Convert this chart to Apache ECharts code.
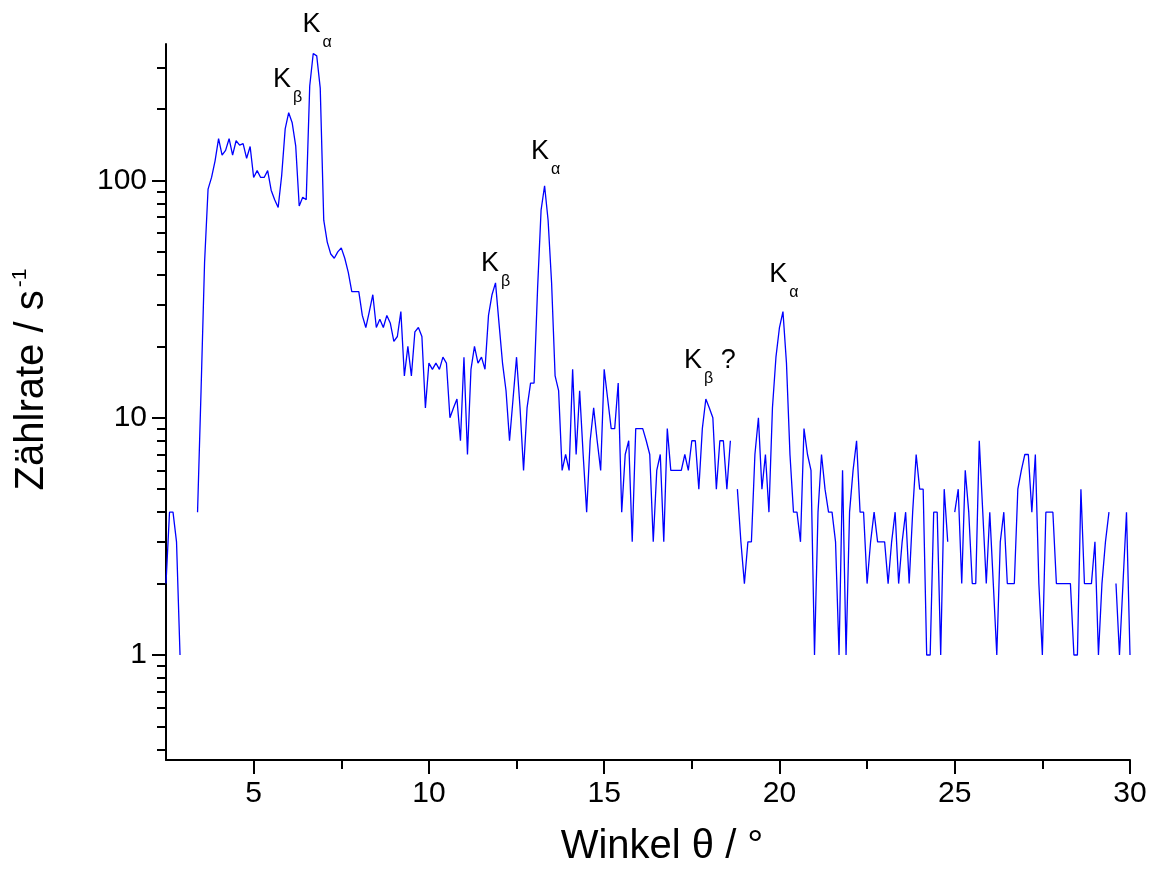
<!DOCTYPE html>
<html>
<head>
<meta charset="utf-8">
<script src="https://cdn.jsdelivr.net/npm/echarts@6.0.0/dist/echarts.min.js"></script>
<style>
html,body{margin:0;padding:0;background:#fff;}
#chart{width:1160px;height:869px;}
</style>
</head>
<body>
<div id="chart"></div>
<script>
// Winkel θ in Grad
const angles = [
2.5,2.6,2.7,2.8,2.9,3.0,3.1,3.2,3.3,3.4,
3.5,3.6,3.7,3.8,3.9,4.0,4.1,4.2,4.3,4.4,
4.5,4.6,4.7,4.8,4.9,5.0,5.1,5.2,5.3,5.4,
5.5,5.6,5.7,5.8,5.9,6.0,6.1,6.2,6.3,6.4,
6.5,6.6,6.7,6.8,6.9,7.0,7.1,7.2,7.3,7.4,
7.5,7.6,7.7,7.8,7.9,8.0,8.1,8.2,8.3,8.4,
8.5,8.6,8.7,8.8,8.9,9.0,9.1,9.2,9.3,9.4,
9.5,9.6,9.7,9.8,9.9,10.0,10.1,10.2,10.3,10.4,
10.5,10.6,10.7,10.8,10.9,11.0,11.1,11.2,11.3,11.4,
11.5,11.6,11.7,11.8,11.9,12.0,12.1,12.2,12.3,12.4,
12.5,12.6,12.7,12.8,12.9,13.0,13.1,13.2,13.3,13.4,
13.5,13.6,13.7,13.8,13.9,14.0,14.1,14.2,14.3,14.4,
14.5,14.6,14.7,14.8,14.9,15.0,15.1,15.2,15.3,15.4,
15.5,15.6,15.7,15.8,15.9,16.0,16.1,16.2,16.3,16.4,
16.5,16.6,16.7,16.8,16.9,17.0,17.1,17.2,17.3,17.4,
17.5,17.6,17.7,17.8,17.9,18.0,18.1,18.2,18.3,18.4,
18.5,18.6,18.7,18.8,18.9,19.0,19.1,19.2,19.3,19.4,
19.5,19.6,19.7,19.8,19.9,20.0,20.1,20.2,20.3,20.4,
20.5,20.6,20.7,20.8,20.9,21.0,21.1,21.2,21.3,21.4,
21.5,21.6,21.7,21.8,21.9,22.0,22.1,22.2,22.3,22.4,
22.5,22.6,22.7,22.8,22.9,23.0,23.1,23.2,23.3,23.4,
23.5,23.6,23.7,23.8,23.9,24.0,24.1,24.2,24.3,24.4,
24.5,24.6,24.7,24.8,24.9,25.0,25.1,25.2,25.3,25.4,
25.5,25.6,25.7,25.8,25.9,26.0,26.1,26.2,26.3,26.4,
26.5,26.6,26.7,26.8,26.9,27.0,27.1,27.2,27.3,27.4,
27.5,27.6,27.7,27.8,27.9,28.0,28.1,28.2,28.3,28.4,
28.5,28.6,28.7,28.8,28.9,29.0,29.1,29.2,29.3,29.4,
29.5,29.6,29.7,29.8,29.9,30.0
];
// Zählrate in 1/s (null = 0, auf log-Achse nicht darstellbar)
const counts = [
2,4,4,3,1,null,null,null,null,4,
13,45,92,103,121,150,128,134,150,128,
147,141,143,124,139,103,110,103,103,110,
91,83,77,105,165,193,175,140,78,85,
83,250,343,335,245,68,55,49,47,50,
52,47,41,34,34,34,27,24,28,33,
24,26,24,27,25,21,22,28,15,20,
15,23,24,22,11,17,16,17,16,18,
17,10,11,12,8,18,7,16,20,17,
18,16,27,33,37,25,17,13,8,12,
18,11,6,11,14,14,35,75,95,68,
37,15,13,6,7,6,16,7,13,7,
4,8,11,8,6,16,12,9,9,14,
4,7,8,3,9,9,9,8,7,3,
6,7,3,9,6,6,6,6,7,6,
8,8,5,9,12,11,10,5,8,8,
5,8,null,5,3,2,3,3,7,10,
5,7,4,11,18,24,28,17,7,4,
4,3,9,7,6,1,4,7,5,4,
4,3,1,6,1,4,6,8,4,4,
2,3,4,3,3,3,2,3,4,2,
3,4,2,4,7,5,5,1,1,4,
4,1,5,3,null,4,5,2,6,4,
2,2,8,4,2,4,2,1,3,4,
2,2,2,5,6,7,7,4,7,2,
1,4,4,4,2,2,2,2,2,1,
1,5,2,2,2,3,1,2,3,4,
null,2,1,2,4,1
];
const xMajorTicks = [5,10,15,20,25,30];
const xMinorTicks = [7.5,12.5,17.5,22.5,27.5];
const yMajorTicks = [1,10,100];
const yMinorTicks = [0.4,0.5,0.6,0.7,0.8,0.9,2,3,4,5,6,7,8,9,20,30,40,50,60,70,80,90,200,300];
// Peak-Beschriftungen: [Index-Buchstabe, Zusatz, Winkel, Zählrate]
const peakLabels = [
  ['α', '', 6.7, 343],
  ['β', '', 6.0, 193],
  ['α', '', 13.3, 95],
  ['β', '', 11.9, 37],
  ['β', ' ?', 17.9, 12],
  ['α', '', 20.1, 28]
];
const labelOffsets = [[4,-29],[-1,-33],[1,-34],[0,-19],[4,-38],[1,-37]];

const FONT = 'Liberation Sans, Arial, Helvetica, sans-serif';
const seriesData = angles.map((a, i) => [a, counts[i]]);

const markData = peakLabels.map((p, i) => ({
  coord: [p[2], p[3]],
  symbol: 'circle',
  symbolSize: 0,
  label: {
    show: true,
    position: 'inside',
    offset: labelOffsets[i],
    formatter: '{k|K}{s|' + p[0] + '}' + (p[1] ? '{k|' + p[1] + '}' : '')
  }
}));

const chart = echarts.init(document.getElementById('chart'), null, {renderer: 'canvas'});
chart.setOption({
  animation: false,
  backgroundColor: '#ffffff',
  grid: {left: 166, right: 30, top: 44, bottom: 109, containLabel: false, outerBoundsMode: 'none'},
  xAxis: [{
    type: 'value', min: 2.5, max: 30, position: 'bottom',
    name: 'Winkel θ / °', nameLocation: 'middle', nameGap: 67,
    nameTextStyle: {fontFamily: FONT, fontSize: 40, color: '#000', padding: [0,0,0,28]},
    axisLine: {show: true, lineStyle: {color: '#000', width: 2}},
    axisTick: {show: true, inside: false, length: 14, customValues: xMajorTicks, lineStyle: {color: '#000', width: 2}},
    axisLabel: {show: true, customValues: xMajorTicks, margin: 19, fontFamily: FONT, fontSize: 30, color: '#000'},
    splitLine: {show: false}
  }, {
    type: 'value', min: 2.5, max: 30, position: 'bottom',
    axisLine: {show: false},
    axisTick: {show: true, inside: false, length: 9, customValues: xMinorTicks, lineStyle: {color: '#000', width: 2}},
    axisLabel: {show: false},
    splitLine: {show: false}
  }],
  yAxis: [{
    type: 'log', logBase: 10, min: 0.361, max: 376, position: 'left',
    name: '{a|Zählrate / s}{b|-1}', nameLocation: 'middle', nameGap: 112, nameRotate: 90,
    nameTextStyle: {
      fontFamily: FONT, fontSize: 40, color: '#000',
      rich: {
        a: {fontFamily: FONT, fontSize: 40, color: '#000', lineHeight: 44, padding: [0,0,0,45]},
        b: {fontFamily: FONT, fontSize: 21, color: '#000', lineHeight: 21, padding: [0,0,23,3]}
      }
    },
    axisLine: {show: true, lineStyle: {color: '#000', width: 2}},
    axisTick: {show: true, inside: false, length: 14, customValues: yMajorTicks, lineStyle: {color: '#000', width: 2}},
    axisLabel: {show: true, customValues: yMajorTicks, margin: 19, fontFamily: FONT, fontSize: 30, color: '#000',
      formatter: v => String(v)},
    splitLine: {show: false}
  }, {
    type: 'log', logBase: 10, min: 0.361, max: 376, position: 'left',
    axisLine: {show: false},
    axisTick: {show: true, inside: false, length: 9, customValues: yMinorTicks, lineStyle: {color: '#000', width: 2}},
    axisLabel: {show: false},
    splitLine: {show: false}
  }],
  series: [{
    type: 'line',
    xAxisIndex: 0, yAxisIndex: 0,
    data: seriesData,
    showSymbol: false,
    connectNulls: false,
    lineStyle: {color: '#0000ff', width: 1.3},
    itemStyle: {color: '#0000ff'},
    emphasis: {disabled: true},
    markPoint: {
      silent: true,
      symbolSize: 0,
      data: markData,
      label: {
        show: true,
        color: '#000',
        rich: {
          k: {fontFamily: FONT, fontSize: 27, color: '#000', lineHeight: 30},
          s: {fontFamily: FONT, fontSize: 16, color: '#000', lineHeight: 16, padding: [36,0,0,2]}
        }
      }
    }
  }]
});
</script>
</body>
</html>
